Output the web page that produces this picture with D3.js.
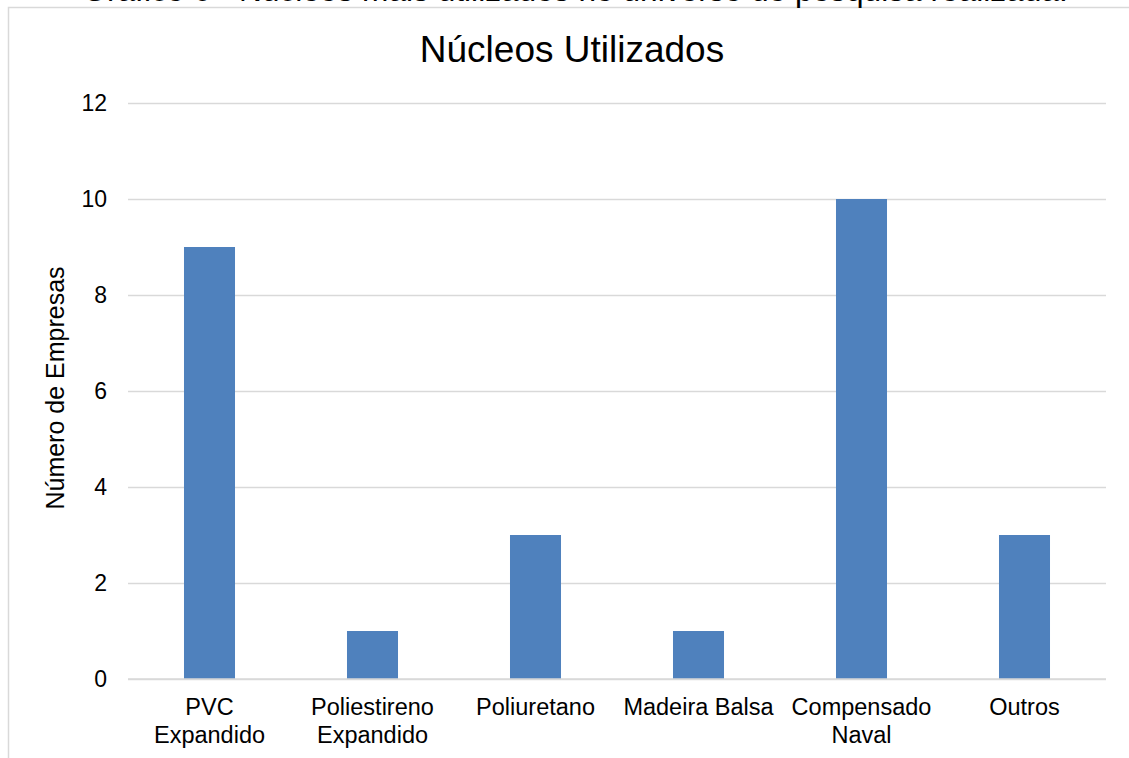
<!DOCTYPE html>
<head>
<meta charset="utf-8">
<script src="https://d3js.org/d3.v7.min.js"></script>
<style>
  body { margin: 0; background: #fff; }
  text { font-family: "Liberation Sans", Arial, sans-serif; fill: #000; }
</style>
</head>
<body>
<div id="chart"></div>
<script>
    // data
    var categories = [["PVC", "Expandido"], ["Poliestireno", "Expandido"], ["Poliuretano"],
                      ["Madeira Balsa"], ["Compensado", "Naval"], ["Outros"]];
    var values = [9, 1, 3, 1, 10, 3];
    var yTicks = [0, 2, 4, 6, 8, 10, 12];
    var caption = "Gráfico 6 - Núcleos mais utilizados no universo de pesquisa realizada.";
    var title = "Núcleos Utilizados";
    var yTitle = "Número de Empresas";

    var W = 1129, H = 758;
    var margin = {top: 103, right: 23, bottom: 79, left: 128},
        width = W - margin.left - margin.right,
        height = H - margin.top - margin.bottom;

    var root = d3.select("#chart").append("svg")
        .attr("width", W).attr("height", H);

    // chart frame (only top and left edge are in view)
    root.append("rect")
        .attr("x", 8.5).attr("y", 7.5)
        .attr("width", W + 20).attr("height", H + 20)
        .attr("fill", "none").attr("stroke", "#d9d9d9").attr("stroke-width", 1.5);

    // caption, cut off at top of picture
    var cap = root.append("text")
        .attr("x", 575).attr("y", 1)
        .attr("text-anchor", "middle")
        .attr("font-size", 24)
        .text(caption);
    var len = cap.node().getComputedTextLength();
    cap.attr("font-size", 24 * 986 / len);

    root.append("text")
        .attr("x", 572).attr("y", 62)
        .attr("text-anchor", "middle")
        .attr("font-size", 37)
        .text(title);

    var svg = root.append("g")
        .attr("transform", "translate(" + margin.left + "," + margin.top + ")");

    var x = d3.scaleBand()
        .domain(d3.range(categories.length))
        .range([0, width])
        .paddingInner(0.687)
        .paddingOuter(0.3435);

    var y = d3.scaleLinear()
        .domain([0, 12])
        .range([height, 0]);

    // gridlines
    svg.append("g")
        .call(d3.axisLeft(y).tickValues(yTicks).tickSize(-width).tickFormat(""))
        .call(g => g.select(".domain").remove())
        .call(g => g.selectAll(".tick line").attr("stroke", "#d9d9d9").attr("stroke-width", 1.3));

    // y tick labels
    svg.append("g")
        .call(d3.axisLeft(y).tickValues(yTicks).tickSize(0).tickPadding(21))
        .call(g => g.select(".domain").remove())
        .call(g => g.selectAll("text").attr("font-size", 23)
            .style("font-family", "'Liberation Sans', Arial, sans-serif").attr("fill", "#000"));

    // bars
    svg.selectAll("rect.bar")
        .data(values)
        .enter()
        .append("rect")
          .attr("class", "bar")
          .attr("x", function(d, i) { return x(i); })
          .attr("y", function(d) { return y(d); })
          .attr("width", x.bandwidth())
          .attr("height", function(d) { return height - y(d); })
          .attr("fill", "#4f81bd");

    // x baseline
    svg.append("line")
        .attr("x1", 0).attr("x2", width)
        .attr("y1", y(0)).attr("y2", y(0))
        .attr("stroke", "#d9d9d9").attr("stroke-width", 1.3);

    // x labels
    var lab = svg.append("g").selectAll("text")
        .data(categories)
        .enter()
        .append("text")
          .attr("text-anchor", "middle")
          .attr("font-size", 23.5)
          .attr("transform", function(d, i) {
              return "translate(" + (x(i) + x.bandwidth() / 2) + "," + (height + 36) + ")";
          });
    lab.selectAll("tspan")
        .data(function(d) { return d; })
        .enter()
        .append("tspan")
          .attr("x", 0)
          .attr("dy", function(d, i) { return i == 0 ? 0 : 28; })
          .text(function(d) { return d; });

    // y title
    root.append("text")
        .attr("transform", "translate(64,388) rotate(-90)")
        .attr("text-anchor", "middle")
        .attr("font-size", 25)
        .text(yTitle);
</script>
</body>
